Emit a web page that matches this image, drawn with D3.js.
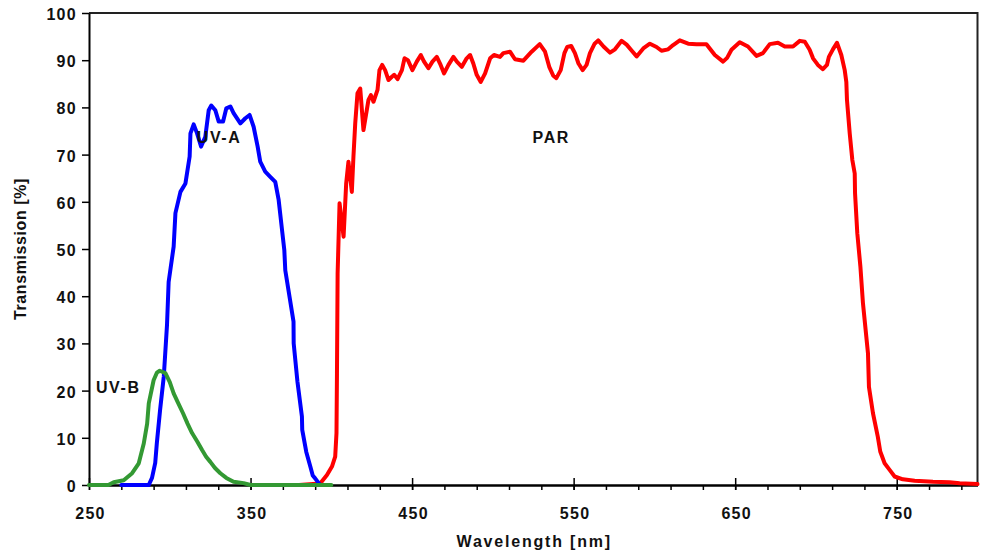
<!DOCTYPE html>
<html>
<head>
<meta charset="utf-8">
<script src="https://cdn.jsdelivr.net/npm/d3@7"></script>
<style>
  body { margin: 0; background: #fff; }
  text { font-family: Arial, "Liberation Sans", sans-serif; font-weight: bold; }
</style>
</head>
<body>
<div id="chart"></div>
<script>
// wavelength [nm], transmission [%]
var uvbData = [[250,0],[262,0],[265.3,0.6],[271.5,1],[276.7,2.5],[280.8,4.6],[283.9,8.8],[286,13],[287,17.3],[290,22.2],[292,23.8],[293.8,24.2],[297.3,23.7],[300,21.8],[302.4,19.4],[305,17.5],[308.2,15.2],[311,13],[313.8,11],[317,9.2],[320,7.4],[322.5,6],[325.1,4.9],[328,3.6],[331.3,2.5],[335,1.5],[339.5,0.7],[345.7,0.4],[350,0],[400,0]];

var uvaData = [[270,0],[287,0],[289,1.5],[291,4.7],[292,8.9],[294,15.9],[296.3,23],[298.3,34],[299.3,43],[302.4,50.5],[303.5,57.6],[306.6,62.1],[309.7,63.9],[312.3,69.6],[312.8,74.5],[314.8,76.4],[316.9,74.5],[319.4,71.7],[322,73.8],[324.1,79.4],[325.7,80.4],[328.2,79.4],[330.3,77],[333,77],[335,79.8],[337.5,80.2],[339.5,78.8],[343.7,76.6],[346.8,77.7],[349.4,78.4],[351.9,75.9],[354.4,71.7],[356,68.5],[359.1,66.4],[362.2,65.3],[365.3,64.2],[367.4,60.4],[369.5,54],[370.9,49.8],[371.5,45.5],[376.6,34.6],[376.7,30],[379,22],[381.8,14.5],[382,11.7],[384.5,7],[387,3.9],[388.5,2],[390,1.4],[393,0],[398,0]];

var parData = [[380,0],[393.1,0.3],[397.3,2.1],[400.4,3.9],[402.4,6],[403.2,11],[403.5,23.7],[403.9,44.8],[405.1,59.7],[407.6,52.6],[409.2,63.9],[410.6,68.5],[412.7,62.1],[413.7,69.6],[414.8,76.6],[416.2,83],[417.9,84],[419.9,75.2],[423,81.6],[424.5,82.6],[426.1,81.2],[428.6,83.7],[429.8,87.9],[431.5,89],[433.3,87.9],[435.4,85.8],[437.5,86.5],[438.9,86.9],[441,86],[443.7,87.9],[445.3,90.4],[447.4,90],[450.2,87.9],[452.9,89.7],[455.4,91.1],[457.4,89.7],[460.1,88.3],[462.6,89.7],[465.3,90.7],[467.3,89.3],[469.8,87.2],[472.5,89],[475.6,90.7],[477.7,89.7],[480.8,88.6],[483.8,90.4],[485.9,91.1],[487.9,89.3],[490,86.9],[492.5,85.4],[495.2,87.2],[498.3,90.4],[500.7,91.1],[504.4,90.7],[506.5,91.5],[510.6,91.8],[513.7,90.2],[518.9,89.9],[524,91.8],[529,93.4],[532.3,91.8],[534.9,88.6],[537.4,86.7],[539.3,86.2],[542,87.9],[544.3,91.5],[546,92.8],[548.5,93],[550.8,91.5],[553,89.3],[555.6,87.9],[558,89],[560.1,91.5],[563,93.5],[565.2,94.2],[568.5,92.9],[572.5,91.6],[575.6,92.3],[579.7,94.1],[582.8,93.3],[586,92],[589,90.8],[593.1,92.5],[597.2,93.5],[601.3,92.8],[604.4,92],[608.5,92.3],[611.6,93.2],[615.7,94.2],[620.9,93.5],[626.1,93.4],[632.2,93.4],[637.4,91.1],[642.5,89.7],[645,90.5],[647.7,92.2],[652.8,93.8],[657.9,92.9],[663.2,90.9],[667.2,91.5],[671.4,93.4],[676.5,93.7],[680.7,92.9],[685.8,92.9],[690,94.1],[693.1,93.9],[696.1,92.2],[698.2,90.4],[701.2,89],[704.3,88.1],[706.8,89],[708,90.7],[710.5,92.3],[713,93.7],[715.7,91.1],[717.8,87.9],[718.8,85.4],[719.2,81.6],[720.9,74.5],[722.5,68.9],[724,66],[724.2,61.8],[725.6,53.3],[727.5,46.3],[729.1,38.5],[732.2,27.9],[732.8,20.8],[735.3,15.2],[738.3,10.2],[739.8,7.1],[742.5,4.6],[745.6,3.2],[748.7,1.8],[753.8,1.2],[761.1,0.9],[772.4,0.7],[782.7,0.6],[788.9,0.35],[800,0.2]];

var xMajorTicks = [250, 350, 450, 550, 650, 750];
var xMinorTicks = d3.range(250, 801, 20);
var yTicks = [0, 10, 20, 30, 40, 50, 60, 70, 80, 90, 100];

var seriesLabels = [
    { text: "UV-A", x: 316.7, y: 72.5 },
    { text: "UV-B", x: 254.3, y: 19.5 },
    { text: "PAR", x: 524.6, y: 72.4 }
];

var margin = { top: 13, right: 4.5, bottom: 66, left: 89 },
    width = 982 - margin.left - margin.right,
    height = 551 - margin.top - margin.bottom;

var svg = d3.select("#chart")
    .append("svg")
    .attr("width", 982)
    .attr("height", 551)
    .append("g")
    .attr("transform", "translate(" + margin.left + "," + margin.top + ")");

var x = d3.scaleLinear().domain([250, 800]).range([0, width]);
var y = d3.scaleLinear().domain([0, 100]).range([height, 0]);

// frame (top + right)
svg.append("path")
    .attr("d", "M0,0H" + width + "V" + height)
    .attr("fill", "none")
    .attr("stroke", "#222")
    .attr("stroke-width", 2);

// y axis
var yAxis = svg.append("g")
    .call(d3.axisLeft(y).tickValues(yTicks).tickSize(7).tickSizeOuter(0).tickPadding(5));
yAxis.select(".domain").attr("stroke-width", 2);
yAxis.selectAll(".tick line").attr("stroke-width", 1.5);
yAxis.selectAll("text")
    .attr("dy", "0.4em")
    .style("font-size", "16px")
    .style("letter-spacing", "1.3px")
    .attr("fill", "#111");

// x axis: minor ticks every 20 nm
var xMinor = svg.append("g")
    .attr("transform", "translate(0," + height + ")")
    .call(d3.axisBottom(x).tickValues(xMinorTicks).tickSize(5).tickSizeOuter(0).tickFormat(""));
xMinor.select(".domain").attr("stroke-width", 2.5);
xMinor.selectAll(".tick line").attr("stroke-width", 1.5);

// x axis: major ticks cross the axis
var xMajor = svg.append("g")
    .attr("transform", "translate(0," + height + ")")
    .call(d3.axisBottom(x).tickValues(xMajorTicks).tickSize(5).tickSizeOuter(0).tickPadding(18));
xMajor.select(".domain").remove();
xMajor.selectAll(".tick line").attr("y1", -7).attr("stroke-width", 1.5);
xMajor.selectAll("text")
    .style("font-size", "16px")
    .style("letter-spacing", "1.3px")
    .attr("dx", "1px")
    .attr("fill", "#111");

// axis titles
svg.append("text")
    .attr("x", width / 2 + 1)
    .attr("y", height + 62)
    .attr("text-anchor", "middle")
    .style("font-size", "16px")
    .style("letter-spacing", "1.8px")
    .attr("fill", "#111")
    .text("Wavelength [nm]");

svg.append("text")
    .attr("transform", "translate(" + (-63) + "," + (height / 2) + ")rotate(-90)")
    .attr("text-anchor", "middle")
    .style("font-size", "16px")
    .style("letter-spacing", "0.6px")
    .attr("fill", "#111")
    .text("Transmission [%]");

var line = d3.line()
    .x(function (d) { return x(d[0]); })
    .y(function (d) { return y(d[1]); });

var series = [
    { data: parData, color: "#ff0000" },
    { data: uvaData, color: "#0000ff" },
    { data: uvbData, color: "#339933" }
];

svg.selectAll("path.series")
    .data(series)
    .enter()
    .append("path")
    .attr("class", "series")
    .attr("d", function (d) { return line(d.data); })
    .attr("fill", "none")
    .attr("stroke", function (d) { return d.color; })
    .attr("stroke-width", 4)
    .attr("stroke-linejoin", "round")
    .attr("stroke-linecap", "round");

svg.selectAll("text.label")
    .data(seriesLabels)
    .enter()
    .append("text")
    .attr("class", "label")
    .attr("x", function (d) { return x(d.x); })
    .attr("y", function (d) { return y(d.y); })
    .style("font-size", "16px")
    .style("letter-spacing", "1.6px")
    .attr("fill", "#111")
    .text(function (d) { return d.text; });
</script>
</body>
</html>
